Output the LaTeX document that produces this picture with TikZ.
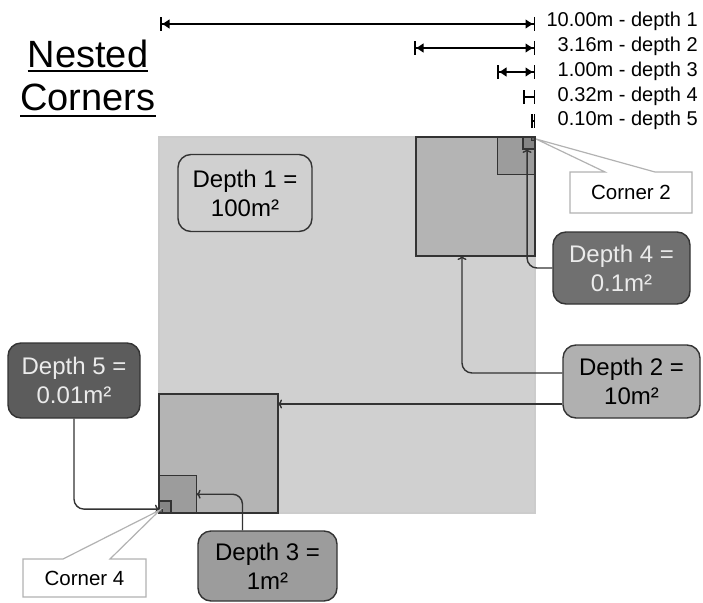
\documentclass[tikz,border=0pt]{standalone}
\usepackage{fontspec}
\setmainfont{Liberation Sans}
\usepackage{tikz}
\usetikzlibrary{calc,arrows.meta}
\definecolor{fillA}{HTML}{D0D0D0}
\definecolor{fillB}{HTML}{B4B4B4}
\definecolor{fillC}{HTML}{9C9C9C}
\definecolor{fillD}{HTML}{858585}
\definecolor{fillE}{HTML}{606060}

\begin{document}
\begin{tikzpicture}[x=1pt,y=-1pt,
  sq/.style={draw=black!80, line width=1.4pt, inner sep=0pt, outer sep=0pt},
  box/.style={draw=black!80, line width=1.4pt, rounded corners=13pt, align=center, inner sep=0pt,
    font=\fontsize{24}{29}\selectfont},
  conn/.style={draw=black!80, line width=1.4pt, rounded corners=10pt, -{To[length=4pt,width=9pt]}},
  dim/.style={line width=1.5pt, {Bar[width=14pt]Latex[length=8pt,width=10pt]}-{Latex[length=8pt,width=10pt]Bar[width=14pt]}},
  tick/.style={line width=1.5pt, {Bar[width=14pt]}-{Bar[width=14pt]}},
  lbl/.style={anchor=east, inner sep=0pt, font=\fontsize{20}{24}\selectfont},
  tipbox/.style={fill=white, draw=black!30, line width=1.2pt}]
\useasboundingbox (0,0) rectangle (703,602);
\def\SIDE{376};\def\RX{535};\def\RY{137};
% title
\node[anchor=base, inner sep=0pt, font=\fontsize{38}{44}\selectfont] (ttlA) at (88,67) {Nested};
\node[anchor=base, inner sep=0pt, font=\fontsize{38}{44}\selectfont] (ttlB) at (88,110) {Corners};
\draw[line width=2pt] ([yshift=-3.5pt]ttlA.base west)--([yshift=-3.5pt]ttlA.base east);
\draw[line width=2pt] ([yshift=-6pt]ttlB.base west)--([yshift=-6pt]ttlB.base east);
% side lengths
\draw[dim] (160,24)--(\RX,24); \node[lbl] (lenA) at (698,21) {10.00m - depth 1};
\draw[dim] (414,48)--(\RX,48); \node[lbl] (lenB) at (698,46) {3.16m - depth 2};
\draw[dim] (497,72)--(\RX,72); \node[lbl] (lenC) at (698,71) {1.00m - depth 3};
\draw[tick] (523,97)--(\RX,97); \node[lbl] (lenD) at (698,96) {0.32m - depth 4};
\draw[tick] (531,121)--(\RX,121); \node[lbl] (lenE) at (698,120) {0.10m - depth 5};
% nested squares, top right corner
\node[sq, draw=black!20, fill=fillA, minimum size=\SIDE pt, anchor=north east] (sq1) at (\RX,\RY) {};
\node[sq, fill=fillB, minimum size=119pt, anchor=north east] (sq2a) at (\RX,\RY) {};
\node[sq, fill=fillC, minimum size=37.6pt, anchor=north east] (sq3a) at (\RX,\RY) {};
\node[sq, fill=fillD, minimum size=11.9pt, anchor=north east] (sq4a) at (\RX,\RY) {};
\node[sq, fill=fillE, minimum size=3.76pt, anchor=north east] (sq5a) at (\RX,\RY) {};
% nested squares, bottom left corner
\node[sq, fill=fillB, minimum size=119pt, anchor=south west] (sq2b) at (sq1.south west) {};
\node[sq, fill=fillC, minimum size=37.6pt, anchor=south west] (sq3b) at (sq1.south west) {};
\node[sq, fill=fillD, minimum size=11.9pt, anchor=south west] (sq4b) at (sq1.south west) {};
\node[sq, fill=fillE, minimum size=3.76pt, anchor=south west] (sq5b) at (sq1.south west) {};
% depth labels
\node[box, fill=fillA, minimum width=134pt, minimum height=77pt] (d1) at (245,193) {Depth 1 =\\100m²};
\node[box, fill=black!31, minimum width=137pt, minimum height=73pt] (d2) at (631.5,381.5) {Depth 2 =\\10m²};
\node[box, fill=fillC, minimum width=139pt, minimum height=70pt] (d3) at (267.5,566) {Depth 3 =\\1m²};
\node[box, fill=black!56, text=white!92!black, minimum width=137pt, minimum height=72pt] (d4) at (621.5,268) {Depth 4 =\\0.1m²};
\node[box, fill=black!64, text=white!92!black, minimum width=132pt, minimum height=75pt] (d5) at (74,380.5) {Depth 5 =\\0.01m²};
\draw[conn] (d4.west) -| ([xshift=-2pt]sq4a.south);
\draw[conn] ([yshift=8.5pt]d2.west) -| ($(sq2a.south west)+(46,0)$);
\coordinate (d2lo) at ([yshift=-22.5pt]d2.west);
\draw[conn] (d2lo) -- (d2lo -| sq2b.east);
\draw[conn] ([xshift=-25pt]d3.north) |- (sq3b.east);
\draw[conn] (d5.south) |- ([yshift=2pt]sq5b.west);
% corner call-outs
\coordinate (cnrAtip) at (536,139);
\draw[tipbox] (570,172)--(605,172)--(cnrAtip)--(655,172)--(692,172)--(692,213)--(570,213)--cycle;
\node[inner sep=0pt, font=\fontsize{20.5}{24}\selectfont] (cnrA) at (631,192.5) {Corner 2};
\coordinate (cnrBtip) at (160,510);
\draw[tipbox] (23,559)--(63,559)--(cnrBtip)--(110,559)--(146,559)--(146,597)--(23,597)--cycle;
\node[inner sep=0pt, font=\fontsize{20.5}{24}\selectfont] (cnrB) at (84.5,578) {Corner 4};
\end{tikzpicture}
\end{document}
